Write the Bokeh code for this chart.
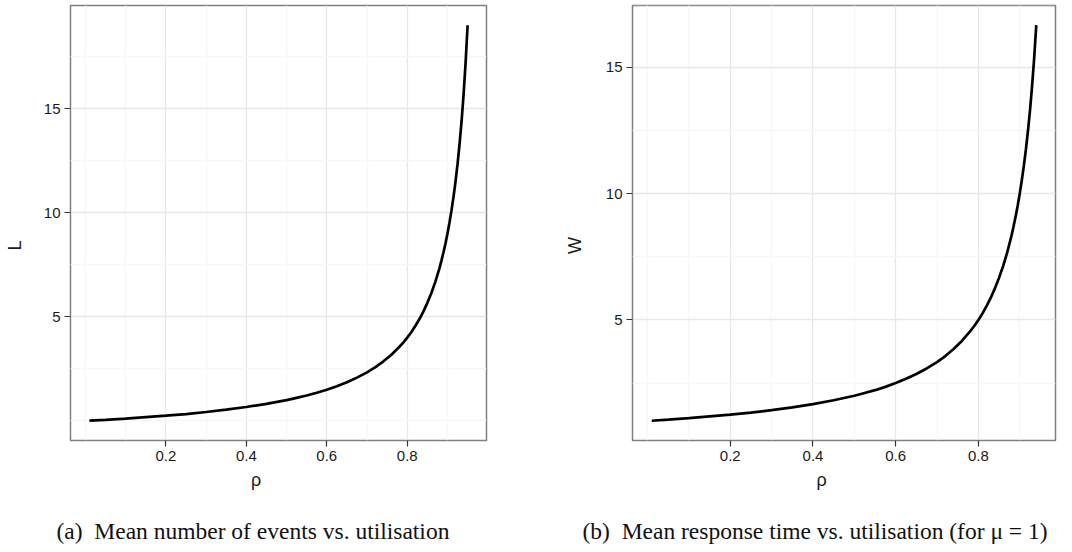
from bokeh.plotting import figure
from bokeh.layouts import row
from bokeh.models import Range1d, FixedTicker, Title
from bokeh.embed import file_html
from bokeh.resources import INLINE

# Data
rho_L = [0.01, 0.05, 0.10, 0.15, 0.20, 0.25, 0.30, 0.35, 0.40, 0.45, 0.50, 0.525,
         0.55, 0.575, 0.60, 0.625, 0.65, 0.675, 0.70, 0.72, 0.74, 0.76, 0.78, 0.79,
         0.80, 0.81, 0.82, 0.83, 0.84, 0.85, 0.86, 0.87, 0.88, 0.885, 0.89, 0.895,
         0.90, 0.905, 0.91, 0.915, 0.92, 0.925, 0.93, 0.935, 0.94, 0.945, 0.95]
L_vals = [0.01, 0.05, 0.11, 0.18, 0.25, 0.33, 0.43, 0.54, 0.67, 0.82, 1.00, 1.11,
          1.22, 1.35, 1.50, 1.67, 1.86, 2.08, 2.33, 2.57, 2.85, 3.17, 3.55, 3.76,
          4.00, 4.26, 4.56, 4.88, 5.25, 5.67, 6.14, 6.69, 7.33, 7.70, 8.09, 8.52,
          9.00, 9.53, 10.11, 10.76, 11.50, 12.33, 13.29, 14.38, 15.67, 17.18, 19.00]

rho_W = [0.01, 0.05, 0.10, 0.15, 0.20, 0.25, 0.30, 0.35, 0.40, 0.45, 0.50, 0.525,
         0.55, 0.575, 0.60, 0.625, 0.65, 0.675, 0.70, 0.72, 0.74, 0.76, 0.78, 0.79,
         0.80, 0.81, 0.82, 0.83, 0.84, 0.85, 0.86, 0.87, 0.88, 0.885, 0.89, 0.895,
         0.90, 0.905, 0.91, 0.915, 0.92, 0.925, 0.93, 0.935, 0.94]
W_vals = [1.01, 1.05, 1.11, 1.18, 1.25, 1.33, 1.43, 1.54, 1.67, 1.82, 2.00, 2.11,
          2.22, 2.35, 2.50, 2.67, 2.86, 3.08, 3.33, 3.57, 3.85, 4.17, 4.55, 4.76,
          5.00, 5.26, 5.56, 5.88, 6.25, 6.67, 7.14, 7.69, 8.33, 8.70, 9.09, 9.52,
          10.00, 10.53, 11.11, 11.76, 12.50, 13.33, 14.29, 15.38, 16.67]

x_ticks = [0.2, 0.4, 0.6, 0.8]
x_minor = [0.0, 0.1, 0.3, 0.5, 0.7, 0.9]
y_ticks = [5, 10, 15]
y_minor = [0.0, 2.5, 7.5, 12.5, 17.5]

x_title = "ρ"
y_title_a = "L"
y_title_b = "W"
caption_a = "(a)\u2002Mean number of events vs. utilisation"
caption_b = "(b)\u2002Mean response time vs. utilisation (for μ = 1)"

TICK_FONT = "Liberation Sans"
CAP_FONT = "Liberation Serif"
PAD = "\u2003\u2003\u2002"  # trailing space shifts the axis titles as in the reference


def make_panel(xs, ys, xr, yr, ylab, caption, ml, mr, cap_offset, ylab_standoff, width):
    p = figure(width=width, height=552, output_backend="svg", toolbar_location=None,
               x_range=Range1d(*xr), y_range=Range1d(*yr),
               min_border_left=ml, min_border_right=mr, min_border_top=5,
               min_border_bottom=112)
    p.background_fill_color = "white"
    p.border_fill_color = "white"
    p.outline_line_color = "#7f7f7f"
    p.outline_line_width = 1.5

    p.xaxis.ticker = FixedTicker(ticks=x_ticks, minor_ticks=x_minor)
    p.yaxis.ticker = FixedTicker(ticks=y_ticks, minor_ticks=y_minor)
    for ax in (p.xaxis[0], p.yaxis[0]):
        ax.axis_line_color = None
        ax.major_tick_line_color = "#333333"
        ax.major_tick_line_width = 1.2
        ax.major_tick_out = 6
        ax.major_tick_in = 0
        ax.minor_tick_line_color = None
        ax.major_label_text_font = TICK_FONT
        ax.major_label_text_font_size = "15px"
        ax.major_label_text_color = "#1a1a1a"
        ax.major_label_standoff = 4
        ax.axis_label_text_font = TICK_FONT
        ax.axis_label_text_font_size = "18px"
        ax.axis_label_text_font_style = "normal"
        ax.axis_label_text_color = "#1a1a1a"
    p.yaxis.major_label_orientation = "horizontal"
    p.xaxis.axis_label = x_title + PAD
    p.xaxis.axis_label_standoff = 6
    p.yaxis.axis_label = ylab + PAD
    p.yaxis.axis_label_standoff = ylab_standoff

    p.xgrid.grid_line_color = "#e8e8e8"
    p.ygrid.grid_line_color = "#e8e8e8"
    p.xgrid.grid_line_width = 1.3
    p.ygrid.grid_line_width = 1.3
    p.xgrid.minor_grid_line_color = "#f7f7f7"
    p.ygrid.minor_grid_line_color = "#f7f7f7"
    p.xgrid.minor_grid_line_width = 1.3
    p.ygrid.minor_grid_line_width = 1.3

    p.line(xs, ys, line_color="black", line_width=2.7)

    # spacer between the x axis and the caption
    p.add_layout(Title(text=" ", text_font_size="1px", standoff=12), "below")
    p.add_layout(Title(text=caption, align="left", offset=cap_offset,
                       text_font=CAP_FONT, text_font_size="23.5px",
                       text_font_style="normal", text_color="#111111",
                       standoff=16), "below")
    return p


pa = make_panel(rho_L, L_vals, (-0.037, 0.997), (-0.94, 19.95), y_title_a, caption_a,
                70, 50, -14, 16, 536)
pb = make_panel(rho_W, W_vals, (-0.0365, 0.9865), (0.227, 17.45), y_title_b, caption_b,
                96, 17, -50, 18, 536)

layout = row(pa, pb)
open("out.html", "w").write(file_html(layout, INLINE))
